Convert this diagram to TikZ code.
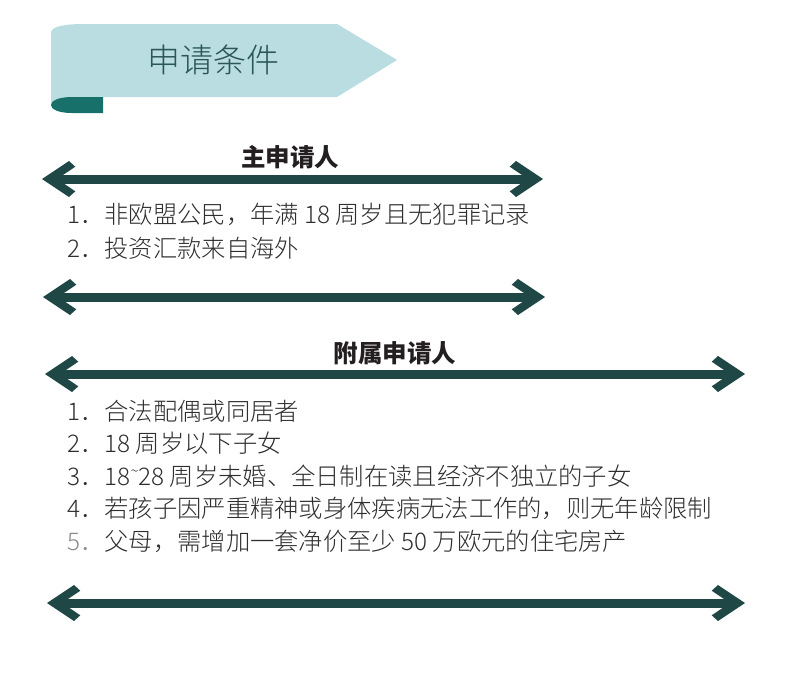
\documentclass[tikz,border=0pt]{standalone}
\usepackage{fontspec}
\setmainfont{Noto Sans CJK SC}
\newfontfamily\lightcjk{Noto Sans CJK SC Light}
\definecolor{bannerlight}{HTML}{B9DDE0}
\definecolor{bannerdark}{HTML}{17706A}
\definecolor{bannertext}{HTML}{2B5656}
\definecolor{arrowcol}{HTML}{1E4745}
\definecolor{bodytext}{HTML}{2E2E2E}
\definecolor{paletext}{HTML}{8A8A8A}
\definecolor{titletext}{HTML}{231F20}
\begin{document}
\begin{tikzpicture}[x=1pt,y=-1pt,
  shaft/.style={draw=arrowcol, line width=9pt, shorten <=12pt, shorten >=12pt},
  secttitle/.style={font=\fontsize{24.5}{28}\selectfont\bfseries, text=titletext, inner sep=0pt},
  item/.style={font=\lightcjk\fontsize{24.3}{28}\selectfont, text=bodytext, inner sep=0pt, anchor=west},
  lhead/.pic={\fill[arrowcol] (0,0) -- (27,-18) -- (33.3,-12.3) -- (15,0) -- (33.3,12.3) -- (27,18) -- cycle;},
  rhead/.pic={\fill[arrowcol] (0,0) -- (-27,-18) -- (-33.3,-12.3) -- (-15,0) -- (-33.3,12.3) -- (-27,18) -- cycle;}
]
\useasboundingbox (0,0) rectangle (800,696);
\fill[white] (0,0) rectangle (800,696);
% banner
\fill[bannerlight] (51,105) -- (51,33) .. controls (51,27) and (62,24) .. (85,24) -- (337,24) -- (397,60) -- (337,97) -- (72,97) -- cycle;
\fill[bannerdark] (103,97) -- (72,97) .. controls (58,97) and (51,101) .. (51,105) .. controls (51,109) and (58,113) .. (72,113) -- (103,113) -- cycle;
\node[font=\lightcjk\fontsize{33}{36}\selectfont, text=bannertext, inner sep=0pt] (banner) at (213,60) {申请条件};
% section 1
\node[secttitle] (t1) at (290,157) {主申请人};
\coordinate (a1l) at (42,179);
\coordinate (a1r) at (543,179);
\draw[shaft] (a1l) -- (a1r);
\pic at (a1l) {lhead};
\pic at (a1r) {rhead};
\node[item] (m1) at (67,214) {1．非欧盟公民，年满 18 周岁且无犯罪记录};
\node[item] (m2) at (67,248) {2．投资汇款来自海外};
\coordinate (a2l) at (43,297);
\coordinate (a2r) at (545,297);
\draw[shaft] (a2l) -- (a2r);
\pic at (a2l) {lhead};
\pic at (a2r) {rhead};
% section 2
\node[secttitle] (t2) at (395,353) {附属申请人};
\coordinate (a3l) at (45,374);
\coordinate (a3r) at (745,374);
\draw[shaft] (a3l) -- (a3r);
\pic at (a3l) {lhead};
\pic at (a3r) {rhead};
\node[item] (d1) at (67,411) {1．合法配偶或同居者};
\node[item] (d2) at (67,443.5) {2．18 周岁以下子女};
\node[item] (d3) at (67,476) {3．18\raisebox{0.38em}{\fontsize{15}{15}\selectfont\symbol{"7E}}28 周岁未婚、全日制在读且经济不独立的子女};
\node[item] (d4) at (67,508.5) {4．若孩子因严重精神或身体疾病无法工作的，则无年龄限制};
\node[item] (d5) at (67,541) {\textcolor{paletext}{5．}父母，需增加一套净价至少 50 万欧元的住宅房产};
\coordinate (a4l) at (47,603);
\coordinate (a4r) at (745,603);
\draw[shaft] (a4l) -- (a4r);
\pic at (a4l) {lhead};
\pic at (a4r) {rhead};
\end{tikzpicture}
\end{document}
